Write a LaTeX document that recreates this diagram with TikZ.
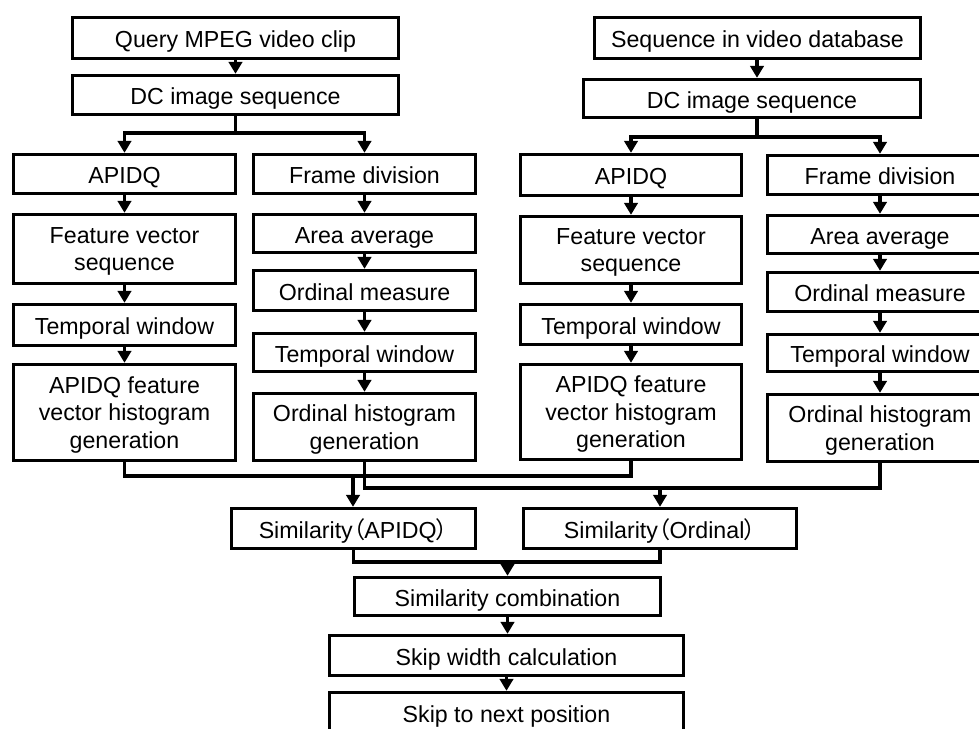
\documentclass[tikz,border=0pt]{standalone}
\usepackage{fontspec}
\setmainfont{Liberation Sans}
\newfontfamily\cjk[RawFeature=+palt]{Noto Sans CJK JP}
\usetikzlibrary{arrows.meta}
\begin{document}
\begin{tikzpicture}[
	box/.style={draw, rectangle, line width=2.4pt, inner sep=0pt, align=center, font=\fontsize{16.5}{19.5}\selectfont},
	sbox/.style={box, text height=14pt, text depth=0pt},
	mbox/.style={box, text depth=-2pt},
	lin/.style={line width=2.4pt},
	arr/.style={lin, -{Triangle[width=9.5pt,length=8.5pt]}}]
	\useasboundingbox (0,0) rectangle (24.475,-18.2);
	% bal oldal: lekerdezes
	\node[sbox, minimum width=8.15cm, minimum height=1.025cm] (q) at (5.8875,-0.95) {Query MPEG video clip};
	\node[sbox, minimum width=8.15cm, minimum height=0.975cm] (dcL) at (5.8875,-2.375) {DC image sequence};
	\node[sbox, minimum width=5.55cm, minimum height=0.975cm] (apL) at (3.1125,-4.35) {APIDQ};
	\node[mbox, minimum width=5.55cm, minimum height=1.725cm] (fvL) at (3.1125,-6.225) {Feature vector\\sequence};
	\node[sbox, minimum width=5.55cm, minimum height=1.025cm] (twL1) at (3.1125,-8.125) {Temporal window};
	\node[mbox, minimum width=5.55cm, minimum height=2.4cm] (ahL) at (3.1125,-10.3125) {APIDQ feature\\vector histogram\\generation};
	\node[sbox, minimum width=5.55cm, minimum height=0.975cm] (fdL) at (9.1125,-4.35) {Frame division};
	\node[sbox, minimum width=5.55cm, minimum height=0.95cm] (aaL) at (9.1125,-5.8375) {Area average};
	\node[sbox, minimum width=5.55cm, minimum height=1.0cm] (omL) at (9.1125,-7.2625) {Ordinal measure};
	\node[sbox, minimum width=5.55cm, minimum height=0.95cm] (twL2) at (9.1125,-8.8125) {Temporal window};
	\node[mbox, minimum width=5.55cm, minimum height=1.675cm] (ohL) at (9.1125,-10.675) {Ordinal histogram\\generation};
	% jobb oldal: adatbazis
	\node[sbox, minimum width=8.15cm, minimum height=1.025cm] (seq) at (18.9375,-0.95) {Sequence in video database};
	\node[sbox, minimum width=8.425cm, minimum height=0.95cm] (dcR) at (18.8,-2.4625) {DC image sequence};
	\node[sbox, minimum width=5.525cm, minimum height=1.025cm] (apR) at (15.775,-4.375) {APIDQ};
	\node[mbox, minimum width=5.525cm, minimum height=1.675cm] (fvR) at (15.775,-6.25) {Feature vector\\sequence};
	\node[sbox, minimum width=5.525cm, minimum height=1.0cm] (twR1) at (15.775,-8.1125) {Temporal window};
	\node[mbox, minimum width=5.525cm, minimum height=2.375cm] (ahR) at (15.775,-10.3) {APIDQ feature\\vector histogram\\generation};
	\node[sbox, minimum width=5.625cm, minimum height=0.975cm] (fdR) at (22.0,-4.375) {Frame division};
	\node[sbox, minimum width=5.625cm, minimum height=0.95cm] (aaR) at (22.0,-5.8625) {Area average};
	\node[sbox, minimum width=5.625cm, minimum height=0.975cm] (omR) at (22.0,-7.3) {Ordinal measure};
	\node[sbox, minimum width=5.625cm, minimum height=0.925cm] (twR2) at (22.0,-8.825) {Temporal window};
	\node[mbox, minimum width=5.625cm, minimum height=1.675cm] (ohR) at (22.0,-10.7) {Ordinal histogram\\generation};
	% also resz
	\node[sbox, minimum width=6.1cm, minimum height=1.0cm] (simA) at (8.8375,-13.2125) {Similarity{\cjk（}APIDQ{\cjk）}};
	\node[sbox, minimum width=6.825cm, minimum height=1.0cm] (simO) at (16.5,-13.2125) {Similarity{\cjk（}Ordinal{\cjk）}};
	\node[sbox, minimum width=7.65cm, minimum height=0.95cm] (comb) at (12.6875,-14.9125) {Similarity combination};
	\node[sbox, minimum width=8.85cm, minimum height=1.0cm] (skw) at (12.6625,-16.3875) {Skip width calculation};
	\node[sbox, minimum width=8.85cm, minimum height=1.025cm] (skn) at (12.6625,-17.825) {Skip to next position};
	% elagazasok
	\coordinate (brL) at (5.8875,-3.325);
	\coordinate (brR) at (18.925,-3.425);
	\coordinate (jA) at (8.825,-11.9);
	\coordinate (jO) at (16.5,-12.2);
	\coordinate (jC) at (12.6875,-14.05);
	% nyilak
	\draw[arr] (q) -- (dcL);
	\draw[lin] (dcL.south) -- (brL);
	\draw[arr] (brL) -| (apL.north);
	\draw[arr] (brL) -| (fdL.north);
	\draw[arr] (apL) -- (fvL); \draw[arr] (fvL) -- (twL1); \draw[arr] (twL1) -- (ahL);
	\draw[arr] (fdL) -- (aaL); \draw[arr] (aaL) -- (omL); \draw[arr] (omL) -- (twL2); \draw[arr] (twL2) -- (ohL);
	\draw[arr] (seq.south -| brR) -- (brR |- dcR.north);
	\draw[lin] (brR |- dcR.south) -- (brR);
	\draw[arr] (brR) -| (apR.north);
	\draw[arr] (brR) -| (fdR.north);
	\draw[arr] (apR) -- (fvR); \draw[arr] (fvR) -- (twR1); \draw[arr] (twR1) -- (ahR);
	\draw[arr] (fdR) -- (aaR); \draw[arr] (aaR) -- (omR); \draw[arr] (omR) -- (twR2); \draw[arr] (twR2) -- (ohR);
	% osszefutas
	\draw[lin] (ahL.south) |- (jA) -| (ahR.south);
	\draw[arr] (jA) -- (jA |- simA.north);
	\draw[lin] (ohL.south) |- (jO) -| (ohR.south);
	\draw[arr] (jO) -- (simO.north);
	\draw[lin] (simA.south) |- (jC) -| (simO.south);
	\draw[arr] (jC) -- (comb.north);
	\draw[arr] (comb.south) -- (comb.south |- skw.north);
	\draw[arr] (skw) -- (skn);
\end{tikzpicture}
\end{document}
